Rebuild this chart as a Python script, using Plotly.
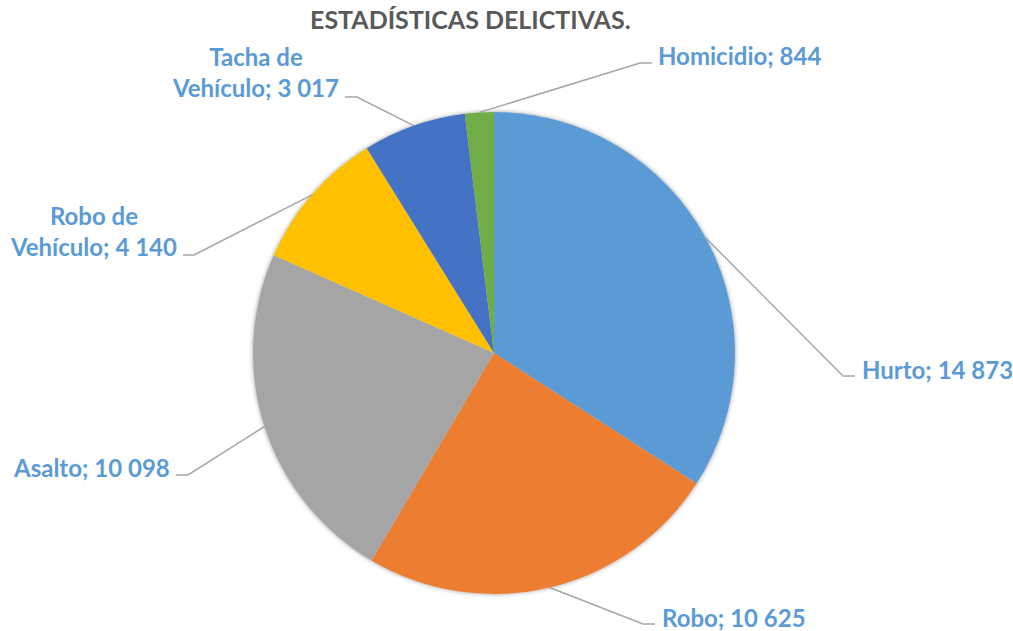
import math
import plotly.graph_objects as go

# ---- data ----
categories = ["Hurto", "Robo", "Asalto", "Robo de<br>Vehículo", "Tacha de<br>Vehículo", "Homicidio"]
values = [14873, 10625, 10098, 4140, 3017, 844]
colors = ["#5B9BD5", "#ED7D31", "#A5A5A5", "#FFC000", "#4472C4", "#70AD47"]

# ---- layout constants (screen pixels of the 1013x631 window) ----
W, H = 1013, 631
CX, CY, R = 494, 353, 241
elbows = [(843, 376), (643, 624), (188, 475), (194, 255), (357, 97), (640, 63)]
ends = [(855, 376), (655, 624), (176, 475), (183, 255), (345, 97), (652, 63)]
label_pos = [(860, 369), (660, 617), (172, 467), (179, 231), (341, 72), (656, 55)]


def fmt(v):
    return f"{v:,}".replace(",", " ")


fig = go.Figure()
fig.add_trace(go.Pie(
    labels=categories, values=values, sort=False, direction="clockwise", rotation=0,
    marker=dict(colors=colors, line=dict(width=0)),
    textinfo="none", hoverinfo="label+value", showlegend=False,
    domain=dict(x=[(CX - R) / W, (CX + R) / W],
                y=[1 - (CY + R) / H, 1 - (CY - R) / H]),
))

# soft shadow behind the pie
shapes = []
for d, a in [(4, 0.03), (2.5, 0.05), (1.2, 0.08)]:
    shapes.append(dict(type="circle", xref="x", yref="y",
                       x0=CX - R - d, x1=CX + R + d, y0=CY - R - d, y1=CY + R + d,
                       fillcolor=f"rgba(0,0,0,{a})", line=dict(width=0), layer="below"))

total = sum(values)
cum = 0
annotations = []
for i, v in enumerate(values):
    mid = (cum + v / 2) / total * 2 * math.pi
    cum += v
    sx = CX + R * math.sin(mid)
    sy = CY - R * math.cos(mid)
    ex, ey = elbows[i]
    hx, hy = ends[i]
    shapes.append(dict(type="path", xref="x", yref="y",
                       path=f"M {sx:.1f},{sy:.1f} L {ex},{ey} L {hx},{hy}",
                       line=dict(color="#A6A6A6", width=1.5), layer="above"))
    lx, ly = label_pos[i]
    right_side = hx > ex
    annotations.append(dict(
        x=lx, y=ly, xref="x", yref="y", showarrow=False,
        text=f"{categories[i]}; {fmt(v)}",
        xanchor="left" if right_side else "right", yanchor="middle", align="center",
        font=dict(family="Lato", size=24, color="#5B9BD5", weight="bold"),
    ))

annotations.append(dict(
    x=470, y=19, xref="x", yref="y", showarrow=False,
    text="ESTADÍSTICAS DELICTIVAS.", xanchor="center", yanchor="middle",
    font=dict(family="Lato", size=25, color="#595959", weight="bold"),
))

fig.update_layout(
    width=W, height=H, margin=dict(l=0, r=0, t=0, b=0),
    paper_bgcolor="white", plot_bgcolor="rgba(0,0,0,0)",
    xaxis=dict(range=[0, W], visible=False, fixedrange=True),
    yaxis=dict(range=[H, 0], visible=False, fixedrange=True),
    shapes=shapes, annotations=annotations,
)

fig.write_html(
    "out.html",
    config={"displayModeBar": False},
    post_script="document.body.style.margin='0';document.body.style.overflow='hidden';",
)
